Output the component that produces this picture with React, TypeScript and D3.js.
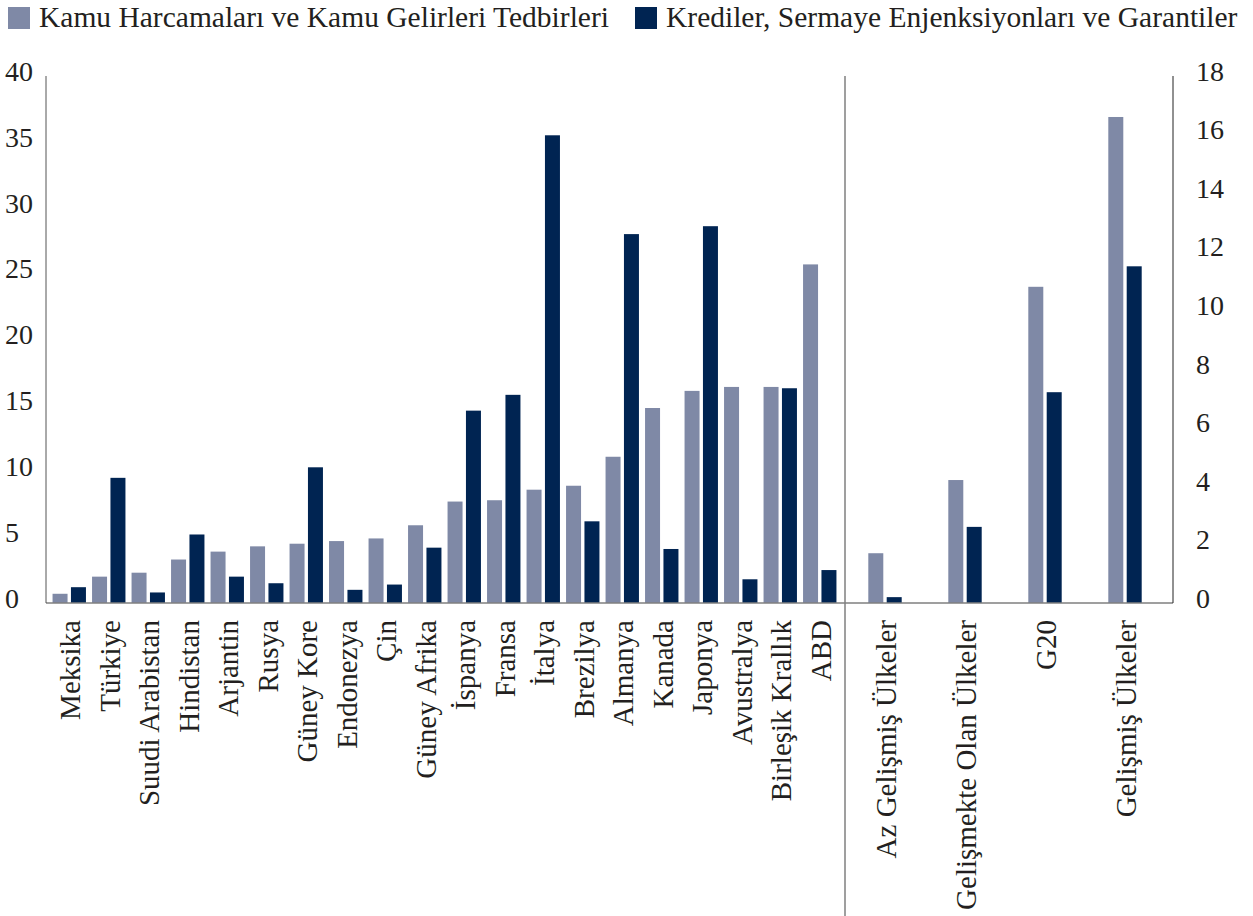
import { useEffect, useRef } from 'react';
import * as d3 from 'd3';

const seriesNames = [
  'Kamu Harcamaları ve Kamu Gelirleri Tedbirleri',
  'Krediler, Sermaye Enjenksiyonları ve Garantiler',
];

const countries = [
  'Meksika', 'Türkiye', 'Suudi Arabistan', 'Hindistan', 'Arjantin', 'Rusya',
  'Güney Kore', 'Endonezya', 'Çin', 'Güney Afrika', 'İspanya', 'Fransa',
  'İtalya', 'Brezilya', 'Almanya', 'Kanada', 'Japonya', 'Avustralya',
  'Birleşik Krallık', 'ABD',
];
const countrySpending = [
  0.7, 2.0, 2.3, 3.3, 3.9, 4.3, 4.5, 4.7, 4.9, 5.9, 7.7, 7.8, 8.6, 8.9, 11.1,
  14.8, 16.1, 16.4, 16.4, 25.7,
];
const countryCredit = [
  1.2, 9.5, 0.8, 5.2, 2.0, 1.5, 10.3, 1.0, 1.4, 4.2, 14.6, 15.8, 35.5, 6.2, 28.0,
  4.1, 28.6, 1.8, 16.3, 2.5,
];

const groups = ['Az Gelişmiş Ülkeler', 'Gelişmekte Olan Ülkeler', 'G20', 'Gelişmiş Ülkeler'];
const groupSpending = [1.7, 4.2, 10.8, 16.6];
const groupCredit = [0.2, 2.6, 7.2, 11.5];

const leftTicks = [0, 5, 10, 15, 20, 25, 30, 35, 40];
const rightTicks = [0, 2, 4, 6, 8, 10, 12, 14, 16, 18];

const colors = ['#7f89a6', '#002452'];
const textColor = '#231f20';
const font = 'Liberation Serif';

export default function App() {
  const svgRef = useRef(null);
  const width = 1253,
    height = 916;

  useEffect(() => {
    const svg = d3.select(svgRef.current);
    svg.selectAll('*').remove();

    const baseY = 603,
      topY = 76,
      leftX = 46,
      dividerX = 845,
      rightX = 1173;

    const yLeft = d3.scaleLinear().domain([0, 40]).range([baseY, topY]);
    const yRight = d3.scaleLinear().domain([0, 18]).range([baseY, topY]);

    const xCountry = d3.scaleBand().domain(countries).range([49.5, 839.5]);
    const xGroup = d3.scaleBand().domain(groups).range([845, 1165]);
    const xSeries = d3
      .scaleBand()
      .domain(['0', '1'])
      .range([-16.7, 16.7])
      .paddingInner(0.185);

    // bars
    const drawBars = (cats, vals, xs, ys) => {
      const rows = cats.map((c, i) => ({ c, v: vals.map((s) => s[i]) }));
      const g = svg
        .append('g')
        .selectAll('g')
        .data(rows)
        .join('g')
        .attr('transform', (d) => `translate(${xs(d.c) + xs.bandwidth() / 2},0)`);
      g.selectAll('rect')
        .data((d) => d.v.map((v, k) => ({ v, k })))
        .join('rect')
        .attr('x', (d) => xSeries(String(d.k)))
        .attr('width', xSeries.bandwidth())
        .attr('y', (d) => ys(d.v))
        .attr('height', (d) => baseY - ys(d.v))
        .attr('fill', (d) => colors[d.k]);
    };
    drawBars(countries, [countrySpending, countryCredit], xCountry, yLeft);
    drawBars(groups, [groupSpending, groupCredit], xGroup, yRight);

    // axis lines
    svg
      .append('line')
      .attr('x1', leftX)
      .attr('x2', rightX)
      .attr('y1', baseY)
      .attr('y2', baseY)
      .attr('stroke', '#7f7f7f')
      .attr('stroke-width', 1.5);
    svg
      .append('line')
      .attr('x1', leftX)
      .attr('x2', leftX)
      .attr('y1', topY)
      .attr('y2', baseY)
      .attr('stroke', '#555')
      .attr('stroke-width', 1);
    svg
      .append('line')
      .attr('x1', rightX)
      .attr('x2', rightX)
      .attr('y1', topY)
      .attr('y2', baseY)
      .attr('stroke', '#222')
      .attr('stroke-width', 1);
    svg
      .append('line')
      .attr('x1', dividerX)
      .attr('x2', dividerX)
      .attr('y1', topY)
      .attr('y2', height)
      .attr('stroke', '#7f7f7f')
      .attr('stroke-width', 1.5);

    // tick labels
    svg
      .append('g')
      .selectAll('text')
      .data(leftTicks)
      .join('text')
      .attr('x', 5)
      .attr('y', (d) => yLeft(d) - 5)
      .attr('dy', '0.35em')
      .text((d) => d)
      .attr('font-size', 28);
    svg
      .append('g')
      .selectAll('text')
      .data(rightTicks)
      .join('text')
      .attr('x', 1196)
      .attr('y', (d) => yRight(d) - 5)
      .attr('dy', '0.35em')
      .text((d) => d)
      .attr('font-size', 28);

    // category labels
    const drawLabels = (cats, xs) =>
      svg
        .append('g')
        .selectAll('text')
        .data(cats)
        .join('text')
        .attr(
          'transform',
          (d) => `translate(${xs(d) + xs.bandwidth() / 2 + 1},620) rotate(-90)`,
        )
        .attr('text-anchor', 'end')
        .attr('dy', '0.35em')
        .text((d) => d)
        .attr('font-size', 29);
    drawLabels(countries, xCountry);
    drawLabels(groups, xGroup);

    // legend
    const legendX = [8, 635];
    const legend = svg
      .append('g')
      .selectAll('g')
      .data(seriesNames)
      .join('g')
      .attr('transform', (d, i) => `translate(${legendX[i]},7)`);
    legend
      .append('rect')
      .attr('width', 22)
      .attr('height', 22)
      .attr('fill', (d, i) => colors[i]);
    legend
      .append('text')
      .attr('x', 31)
      .attr('y', 20)
      .text((d) => d)
      .attr('font-size', 29.5);

    svg.selectAll('text').attr('fill', textColor).attr('font-family', font);
  }, []);

  return (
    <svg
      ref={svgRef}
      width={width}
      height={height}
      viewBox={`0 0 ${width} ${height}`}
      fontFamily={font}
      style={{ position: 'absolute', left: 0, top: 0, background: '#fff', fontFamily: font }}
    ></svg>
  );
}
